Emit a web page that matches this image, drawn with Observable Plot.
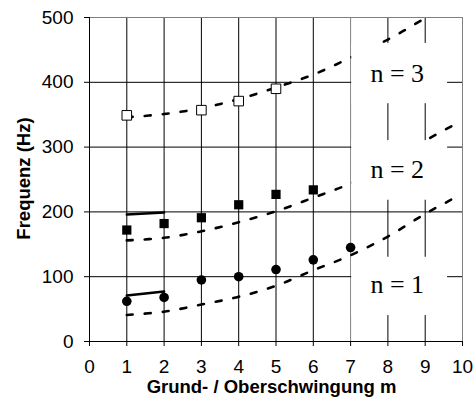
<!DOCTYPE html>
<html><head><meta charset="utf-8">
<script src="https://cdn.jsdelivr.net/npm/d3@7"></script>
<script src="https://cdn.jsdelivr.net/npm/@observablehq/plot@0.6"></script>
<style>body{margin:0;background:#fff}</style>
</head><body><div id="chart"></div>
<script>
// tick values
const xTicks = [0,1,2,3,4,5,6,7,8,9,10];
const yTicks = [0,100,200,300,400,500];
const gridX = [1,2,3,4,5,6,8,9];
const gridX7 = [7];
const gridY = [100,200,300,400];

// measured values
const meas1M = [1,2,3,4,5,6,7];
const meas1F = [62,68,95,100,111,126,145];
const meas2M = [1,2,3,4,5,6];
const meas2F = [172,182,191,211,227,234];
const meas3M = [1,3,4,5];
const meas3F = [349,357,371,390];

// solid short lines
const solid1M = [1,2];
const solid1F = [71,77];
const solid2M = [1,2];
const solid2F = [196,199];

// dashed theory curves
const theo1M = [1,2,3,4,5,6,7,8,9,9.9];
const theo1F = [41,46,57,69,86,110,133,162,197,225];
const theo2M = [1,2,3,4,5,6,7,8,9,9.9];
const theo2F = [156,160,170,184,201,222,244,274,310,338];
const theo3M = [1,2,3,4,5,6,7,8,9];
const theo3F = [346,351,360,374,392,412,438,466,499];

// label boxes
const labels = ["n = 1","n = 2","n = 3"];
const labelX = [8.25,8.25,8.25];
const labelY = [88,265,414];
const boxX1 = [7.03,7.03,7.03];
const boxX2 = [9.6,9.6,9.6];
const boxY1 = [40,218,367];
const boxY2 = [130,310,460];

const zip = (ms, fs) => ms.map((m,i) => ({m, f: fs[i]}));
const boxes = labels.map((t,i) => ({t, x: labelX[i], y: labelY[i], x1: boxX1[i], x2: boxX2[i], y1: boxY1[i], y2: boxY2[i]}));
const dash = {stroke: "#000", strokeWidth: 2.6, strokeDasharray: "6,12", curve: "catmull-rom", clip: true};

const chart = Plot.plot({
  width: 474, height: 412,
  marginLeft: 89, marginRight: 12, marginTop: 17, marginBottom: 71,
  style: {fontFamily: "'Liberation Sans', Arial, sans-serif", background: "white"},
  x: {domain: [0,10]},
  y: {domain: [0,500]},
  marks: [
    Plot.ruleX(gridX, {stroke: "#000", strokeWidth: 1}),
    Plot.ruleX(gridX7, {stroke: "#808080", strokeWidth: 1}),
    Plot.ruleY(gridY, {stroke: "#000", strokeWidth: 1}),
    Plot.ruleY([500], {stroke: "#808080"}),
    Plot.ruleX([10], {stroke: "#808080"}),
    Plot.line(zip(theo1M, theo1F), {x: "m", y: "f", ...dash}),
    Plot.line(zip(theo2M, theo2F), {x: "m", y: "f", ...dash}),
    Plot.line(zip(theo3M, theo3F), {x: "m", y: "f", ...dash}),
    Plot.rect(boxes, {x1: "x1", x2: "x2", y1: "y1", y2: "y2", fill: "white"}),
    Plot.text(boxes, {x: "x", y: "y", text: "t", fontFamily: "'Liberation Serif', 'Times New Roman', serif", fontSize: 26, fill: "#000"}),
    Plot.line(zip(solid1M, solid1F), {x: "m", y: "f", stroke: "#000", strokeWidth: 2.5}),
    Plot.line(zip(solid2M, solid2F), {x: "m", y: "f", stroke: "#000", strokeWidth: 2.5}),
    Plot.dot(zip(meas1M, meas1F), {x: "m", y: "f", r: 4.8, fill: "#000", stroke: "none"}),
    Plot.dot(zip(meas2M, meas2F), {x: "m", y: "f", symbol: "square", r: 5.2, fill: "#000", stroke: "none"}),
    Plot.dot(zip(meas3M, meas3F), {x: "m", y: "f", symbol: "square", r: 5.4, fill: "white", stroke: "#000", strokeWidth: 1}),
    Plot.ruleX([0], {stroke: "#000"}),
    Plot.ruleY([0], {stroke: "#000"}),
    Plot.axisX({ticks: xTicks, tickSize: 5, tickPadding: 13, fontSize: 19, label: null, tickFormat: d => String(d)}),
    Plot.axisY({ticks: yTicks, tickSize: 5, tickPadding: 11, fontSize: 19, label: null, tickFormat: d => String(d)}),
    Plot.text(["Grund- / Oberschwingung m"], {frameAnchor: "bottom", lineAnchor: "middle", textAnchor: "middle", dy: 46, dx: -4.5, fontWeight: "bold", fontSize: 18.5, fill: "#000"}),
    Plot.text(["Frequenz (Hz)"], {frameAnchor: "left", lineAnchor: "middle", textAnchor: "middle", dx: -65.5, dy: -1, rotate: -90, fontWeight: "bold", fontSize: 18.5, fill: "#000"})
  ]
});
document.getElementById("chart").appendChild(chart);
</script>
</body></html>
